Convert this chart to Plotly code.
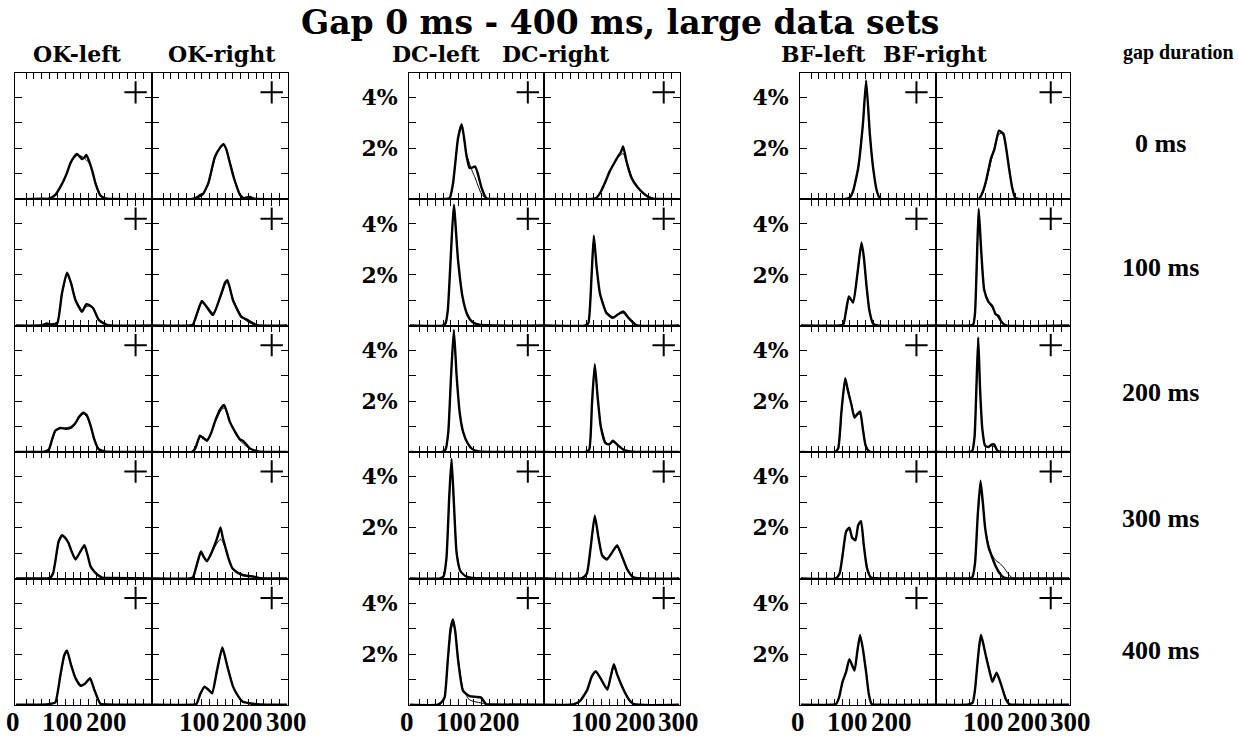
import plotly.graph_objects as go

W, H = 1238, 739
FRAME_MS = 1000 / 60
X_RANGE = [-7, 285]
Y_RANGE = [0, 4.96]

TITLE = "Gap 0 ms - 400 ms, large data sets"
COLUMN_TITLES = ["OK-left", "OK-right", "DC-left", "DC-right", "BF-left", "BF-right"]
GAP_TITLE = "gap duration"
GAP_LABELS = ["0 ms", "100 ms", "200 ms", "300 ms", "400 ms"]
X_LABELS_LEFT = ["0", "100", "200"]
X_LABELS_RIGHT = ["100", "200", "300"]
Y_TICK_VALUES = [1, 2, 3, 4]
Y_TICK_TEXT = ["", "2%", "", "4%"]
PLUS_X = [250, 250, 250, 250, 243, 243]
PLUS_Y = 4.2

# ---------------- data (ms, % per bin) ----------------
OK_LEFT_X = [
    [-5, 50, 60, 68, 80, 90, 97, 104, 111, 118, 125, 130, 136, 141, 145, 150, 158, 165, 175, 185, 200, 283],
    [-5, 50, 61, 70, 83, 93, 104, 112, 122, 136, 145, 152, 160, 172, 190, 283],
    [-5, 55, 65, 72, 79, 90, 100, 111, 122, 130, 139, 146, 154, 162, 171, 185, 283],
    [-5, 60, 68, 74, 79, 86, 93, 100, 107, 114, 122, 132, 141, 148, 154, 161, 168, 179, 195, 283],
    [-5, 60, 70, 79, 90, 98, 104, 112, 122, 133, 143, 153, 162, 175, 190, 283],
]
OK_LEFT_DATA = [
    [0.01, 0.03, 0.02, 0.05, 0.2, 0.5, 0.75, 1.05, 1.42, 1.65, 1.78, 1.7, 1.58, 1.65, 1.74, 1.55, 1.1, 0.6, 0.15, 0.04, 0.02, 0.01],
    [0.01, 0.02, 0.09, 0.05, 0.1, 1.27, 2.08, 1.7, 1.0, 0.55, 0.85, 0.8, 0.68, 0.22, 0.03, 0.01],
    [0.01, 0.02, 0.1, 0.5, 0.85, 0.95, 0.92, 0.95, 1.15, 1.4, 1.55, 1.45, 1.05, 0.5, 0.12, 0.03, 0.01],
    [0.01, 0.01, 0.03, 0.2, 0.68, 1.46, 1.7, 1.6, 1.4, 1.05, 0.75, 1.05, 1.31, 0.9, 0.48, 0.3, 0.16, 0.04, 0.03, 0.01],
    [0.01, 0.02, 0.05, 0.1, 1.2, 1.95, 2.13, 1.6, 1.05, 0.75, 0.85, 1.05, 0.6, 0.05, 0.02, 0.01],
]
OK_LEFT_FIT = [
    [0.01, 0.01, 0.02, 0.05, 0.2, 0.5, 0.75, 1.05, 1.38, 1.6, 1.72, 1.72, 1.68, 1.62, 1.55, 1.45, 1.1, 0.65, 0.2, 0.05, 0.02, 0.01],
    [0.01, 0.01, 0.05, 0.06, 0.15, 1.2, 2.0, 1.75, 1.05, 0.62, 0.75, 0.78, 0.65, 0.25, 0.04, 0.01],
    [0.01, 0.02, 0.12, 0.45, 0.8, 0.95, 0.95, 1.0, 1.15, 1.35, 1.5, 1.4, 1.05, 0.55, 0.15, 0.03, 0.01],
    [0.01, 0.01, 0.03, 0.22, 0.7, 1.4, 1.65, 1.6, 1.4, 1.08, 0.8, 1.05, 1.25, 0.9, 0.5, 0.3, 0.16, 0.04, 0.03, 0.01],
    [0.01, 0.02, 0.04, 0.12, 1.15, 1.9, 2.08, 1.65, 1.1, 0.8, 0.85, 1.0, 0.62, 0.08, 0.02, 0.01],
]

OK_RIGHT_X = [
    [-5, 80, 90, 96, 102, 114, 128, 140, 146, 152, 160, 168, 175, 182, 190, 203, 212, 283],
    [-5, 75, 81, 90, 100, 112, 124, 142, 150, 155, 167, 185, 199, 210, 217, 283],
    [-5, 80, 87, 96, 103, 111, 120, 128, 140, 148, 155, 160, 173, 182, 188, 196, 203, 221, 283],
    [-5, 75, 81, 90, 98, 104, 111, 118, 125, 133, 140, 145, 151, 158, 165, 175, 186, 200, 212, 225, 283],
    [-5, 80, 88, 97, 106, 114, 122, 132, 144, 155, 167, 178, 188, 205, 225, 283],
]
OK_RIGHT_DATA = [
    [0.01, 0.02, 0.08, 0.17, 0.2, 0.64, 1.67, 2.05, 2.17, 2.0, 1.45, 0.89, 0.5, 0.17, 0.05, 0.1, 0.03, 0.01],
    [0.01, 0.01, 0.05, 0.5, 0.98, 0.7, 0.42, 1.27, 1.7, 1.79, 1.0, 0.35, 0.22, 0.1, 0.03, 0.01],
    [0.01, 0.02, 0.2, 0.65, 0.55, 0.45, 0.75, 1.2, 1.7, 1.85, 1.5, 1.2, 0.75, 0.5, 0.45, 0.3, 0.15, 0.03, 0.01],
    [0.01, 0.01, 0.05, 0.6, 1.07, 0.85, 0.68, 0.9, 1.2, 1.6, 2.01, 1.6, 1.2, 0.75, 0.42, 0.25, 0.15, 0.1, 0.08, 0.02, 0.01],
    [0.01, 0.01, 0.03, 0.45, 0.72, 0.6, 0.46, 1.3, 2.26, 1.5, 0.72, 0.35, 0.13, 0.06, 0.02, 0.01],
]
OK_RIGHT_FIT = [
    [0.01, 0.01, 0.04, 0.1, 0.18, 0.6, 1.6, 2.05, 2.12, 2.0, 1.5, 0.95, 0.5, 0.2, 0.06, 0.05, 0.02, 0.01],
    [0.01, 0.01, 0.04, 0.45, 0.9, 0.75, 0.5, 1.2, 1.6, 1.7, 1.05, 0.38, 0.15, 0.06, 0.02, 0.01],
    [0.01, 0.02, 0.15, 0.6, 0.6, 0.5, 0.75, 1.15, 1.6, 1.75, 1.5, 1.2, 0.7, 0.45, 0.35, 0.22, 0.12, 0.03, 0.01],
    [0.01, 0.01, 0.05, 0.55, 1.0, 0.85, 0.72, 0.9, 1.15, 1.4, 1.55, 1.45, 1.15, 0.75, 0.45, 0.28, 0.18, 0.1, 0.07, 0.02, 0.01],
    [0.01, 0.01, 0.03, 0.4, 0.7, 0.62, 0.5, 1.25, 2.2, 1.55, 0.75, 0.35, 0.15, 0.06, 0.02, 0.01],
]

DC_LEFT_X = [
    [-5, 70, 81, 88, 92, 99, 107, 113, 117, 124, 130, 136, 142, 150, 160, 175, 283],
    [-5, 65, 72, 77, 83, 90, 99, 110, 120, 130, 145, 283],
    [-5, 65, 72, 78, 84, 90, 96, 103, 110, 120, 130, 145, 283],
    [-5, 60, 68, 74, 80, 85, 90, 96, 104, 115, 130, 283],
    [-5, 55, 63, 70, 77, 83, 88, 93, 99, 110, 124, 138, 149, 160, 175, 283],
]
DC_LEFT_DATA = [
    [0.01, 0.02, 0.05, 0.6, 1.23, 2.4, 2.95, 2.3, 1.75, 1.23, 1.25, 1.29, 1.0, 0.45, 0.05, 0.02, 0.01],
    [0.01, 0.01, 0.1, 0.63, 2.59, 4.75, 2.59, 1.02, 0.4, 0.15, 0.04, 0.01],
    [0.01, 0.01, 0.1, 0.8, 3.0, 4.8, 3.0, 1.5, 0.8, 0.35, 0.12, 0.03, 0.01],
    [0.01, 0.01, 0.1, 0.8, 3.2, 4.7, 3.0, 1.0, 0.3, 0.1, 0.03, 0.01],
    [0.01, 0.01, 0.1, 0.3, 1.79, 3.0, 3.36, 2.9, 1.79, 0.55, 0.35, 0.32, 0.29, 0.03, 0.02, 0.01],
]
DC_LEFT_FIT = [
    [0.01, 0.02, 0.05, 0.6, 1.2, 2.4, 2.9, 2.3, 1.8, 1.4, 1.1, 0.85, 0.55, 0.2, 0.04, 0.02, 0.01],
    [0.01, 0.01, 0.08, 0.6, 2.6, 4.7, 2.6, 1.0, 0.4, 0.15, 0.04, 0.01],
    [0.01, 0.01, 0.08, 0.75, 3.0, 4.7, 3.0, 1.5, 0.8, 0.35, 0.12, 0.03, 0.01],
    [0.01, 0.01, 0.1, 0.8, 3.1, 4.6, 3.0, 1.05, 0.3, 0.1, 0.03, 0.01],
    [0.01, 0.01, 0.06, 0.3, 1.7, 2.8, 3.2, 2.9, 1.9, 0.6, 0.2, 0.12, 0.08, 0.03, 0.02, 0.01],
]

DC_RIGHT_X = [
    [-5, 95, 105, 115, 125, 134, 143, 152, 158, 163, 170, 181, 193, 206, 217, 227, 240, 283],
    [-5, 80, 88, 95, 100, 106, 113, 127, 141, 152, 163, 175, 191, 283],
    [-5, 82, 90, 96, 102, 108, 115, 125, 133, 141, 150, 165, 183, 283],
    [-5, 75, 85, 93, 102, 110, 118, 128, 140, 150, 160, 172, 185, 283],
    [-5, 50, 57, 70, 86, 95, 104, 116, 129, 136, 143, 150, 165, 176, 186, 283],
]
DC_RIGHT_DATA = [
    [0.01, 0.02, 0.05, 0.3, 0.7, 1.1, 1.4, 1.69, 1.85, 2.08, 1.5, 0.84, 0.5, 0.25, 0.1, 0.03, 0.02, 0.01],
    [0.01, 0.01, 0.1, 1.93, 3.54, 2.3, 1.28, 0.5, 0.31, 0.45, 0.56, 0.3, 0.03, 0.01],
    [0.01, 0.01, 0.1, 1.9, 3.45, 2.2, 1.0, 0.35, 0.3, 0.45, 0.3, 0.08, 0.02, 0.01],
    [0.01, 0.02, 0.2, 1.2, 2.47, 1.6, 0.9, 0.75, 1.05, 1.3, 0.9, 0.35, 0.05, 0.01],
    [0.01, 0.01, 0.03, 0.15, 0.6, 1.1, 1.33, 1.0, 0.6, 1.1, 1.6, 1.2, 0.55, 0.2, 0.03, 0.01],
]
DC_RIGHT_FIT = [
    [0.01, 0.02, 0.05, 0.3, 0.7, 1.1, 1.4, 1.65, 1.75, 1.8, 1.5, 0.9, 0.5, 0.25, 0.1, 0.03, 0.02, 0.01],
    [0.01, 0.01, 0.08, 1.9, 3.45, 2.3, 1.3, 0.55, 0.35, 0.45, 0.5, 0.3, 0.04, 0.01],
    [0.01, 0.01, 0.08, 1.85, 3.35, 2.2, 1.05, 0.4, 0.32, 0.4, 0.3, 0.1, 0.02, 0.01],
    [0.01, 0.02, 0.2, 1.15, 2.4, 1.65, 0.95, 0.8, 1.05, 1.25, 0.9, 0.38, 0.06, 0.01],
    [0.01, 0.01, 0.03, 0.15, 0.6, 1.05, 1.3, 1.0, 0.65, 1.05, 1.5, 1.2, 0.6, 0.22, 0.04, 0.01],
]

BF_LEFT_X = [
    [-5, 90, 100, 107, 118, 128, 135, 143, 150, 158, 165, 180, 283],
    [-5, 78, 86, 92, 98, 107, 116, 125, 130, 136, 142, 150, 160, 283],
    [-5, 68, 75, 82, 90, 96, 103, 110, 116, 122, 128, 134, 142, 283],
    [-5, 70, 78, 85, 92, 99, 105, 112, 118, 124, 130, 137, 145, 160, 283],
    [-5, 62, 70, 77, 84, 92, 99, 110, 116, 122, 128, 135, 141, 147, 160, 283],
]
BF_LEFT_DATA = [
    [0.01, 0.02, 0.08, 0.33, 1.24, 2.94, 4.67, 2.55, 1.24, 0.33, 0.03, 0.01, 0.01],
    [0.01, 0.01, 0.05, 0.6, 1.15, 0.91, 2.0, 3.27, 2.7, 1.54, 0.6, 0.08, 0.01, 0.01],
    [0.01, 0.01, 0.15, 1.6, 2.9, 2.4, 1.9, 1.35, 1.5, 1.6, 0.9, 0.25, 0.03, 0.01],
    [0.01, 0.01, 0.2, 1.0, 1.85, 2.0, 1.6, 1.5, 2.1, 2.25, 1.3, 0.4, 0.05, 0.01, 0.01],
    [0.01, 0.01, 0.03, 0.3, 0.89, 1.3, 1.8, 1.35, 2.1, 2.75, 2.2, 1.28, 0.4, 0.03, 0.01, 0.01],
]
BF_LEFT_FIT = [
    [0.01, 0.01, 0.06, 0.3, 1.2, 2.9, 4.5, 2.6, 1.2, 0.35, 0.05, 0.01, 0.01],
    [0.01, 0.01, 0.04, 0.55, 1.05, 1.0, 2.0, 3.2, 2.7, 1.5, 0.6, 0.1, 0.01, 0.01],
    [0.01, 0.01, 0.12, 1.5, 2.7, 2.5, 1.9, 1.45, 1.45, 1.5, 0.95, 0.3, 0.04, 0.01],
    [0.01, 0.01, 0.2, 0.95, 1.8, 1.95, 1.65, 1.55, 2.05, 2.2, 1.35, 0.45, 0.06, 0.01, 0.01],
    [0.01, 0.01, 0.03, 0.3, 0.85, 1.3, 1.75, 1.4, 2.05, 2.7, 2.2, 1.3, 0.42, 0.04, 0.01, 0.01],
]

BF_RIGHT_X = [
    [-5, 80, 87, 95, 102, 113, 120, 130, 135, 140, 146, 152, 159, 166, 180, 283],
    [-5, 68, 74, 78, 82, 86, 91, 98, 107, 116, 123, 129, 136, 145, 283],
    [-5, 65, 72, 77, 81, 85, 89, 94, 100, 107, 114, 120, 127, 140, 283],
    [-5, 65, 72, 78, 84, 90, 95, 100, 108, 116, 124, 132, 140, 150, 160, 283],
    [-5, 60, 66, 73, 78, 82, 87, 91, 96, 102, 110, 116, 125, 135, 145, 153, 165, 283],
]
BF_RIGHT_DATA = [
    [0.01, 0.01, 0.03, 0.3, 0.72, 1.62, 1.95, 2.7, 2.65, 2.57, 2.0, 1.24, 0.46, 0.05, 0.01, 0.01],
    [0.01, 0.01, 0.05, 0.5, 2.5, 4.6, 3.1, 1.41, 0.95, 0.76, 0.45, 0.39, 0.15, 0.02, 0.01],
    [0.01, 0.01, 0.05, 0.6, 2.5, 4.5, 2.5, 0.9, 0.25, 0.2, 0.3, 0.3, 0.05, 0.01, 0.01],
    [0.01, 0.01, 0.05, 0.6, 2.5, 3.84, 3.0, 2.0, 1.2, 0.8, 0.45, 0.2, 0.05, 0.01, 0.01, 0.01],
    [0.01, 0.01, 0.03, 0.1, 0.6, 1.37, 2.3, 2.75, 2.4, 1.9, 1.3, 0.91, 1.27, 0.8, 0.24, 0.03, 0.01, 0.01],
]
BF_RIGHT_FIT = [
    [0.01, 0.01, 0.02, 0.25, 0.65, 1.5, 2.0, 2.55, 2.6, 2.5, 2.0, 1.3, 0.5, 0.08, 0.01, 0.01],
    [0.01, 0.01, 0.05, 0.5, 2.5, 4.5, 3.1, 1.45, 0.95, 0.7, 0.5, 0.3, 0.12, 0.02, 0.01],
    [0.01, 0.01, 0.05, 0.6, 2.5, 4.4, 2.5, 0.9, 0.28, 0.2, 0.25, 0.22, 0.05, 0.01, 0.01],
    [0.01, 0.01, 0.05, 0.6, 2.4, 3.5, 2.9, 2.0, 1.3, 0.9, 0.7, 0.6, 0.45, 0.2, 0.02, 0.01],
    [0.01, 0.01, 0.03, 0.1, 0.55, 1.3, 2.2, 2.65, 2.4, 1.95, 1.35, 1.0, 1.2, 0.8, 0.28, 0.04, 0.01, 0.01],
]

COLUMNS_X = [OK_LEFT_X, OK_RIGHT_X, DC_LEFT_X, DC_RIGHT_X, BF_LEFT_X, BF_RIGHT_X]
COLUMNS_DATA = [OK_LEFT_DATA, OK_RIGHT_DATA, DC_LEFT_DATA, DC_RIGHT_DATA, BF_LEFT_DATA, BF_RIGHT_DATA]
COLUMNS_FIT = [OK_LEFT_FIT, OK_RIGHT_FIT, DC_LEFT_FIT, DC_RIGHT_FIT, BF_LEFT_FIT, BF_RIGHT_FIT]

# ---------------- layout geometry (pixels) ----------------
COL_EDGES = [(15, 152), (152, 288), (409, 544), (544, 680), (800, 936), (936, 1070)]
ROW_TOP, ROW_BOTTOM = 73, 705
N_ROWS = 5
COLUMN_TITLE_X = [77, 222, 436, 556, 823, 935]
COLUMN_TITLE_Y = 54
GAP_TITLE_X = 1178
GAP_LABEL_X = 1160
GAP_LABEL_Y = [143, 267, 392, 518, 650]
X_LABEL_OFFS_LEFT = [-2, 47.5, 91]
X_LABEL_OFFS_RIGHT = [47.5, 91, 134]
X_LABEL_Y = 722

SERIF = "DejaVu Serif"
TIMES = "Liberation Serif"


def px(x):
    return x / W


def py(y):
    return 1 - y / H


fig = go.Figure()
layout = dict(
    width=W, height=H, autosize=False,
    margin=dict(l=0, r=0, t=0, b=0),
    paper_bgcolor="white", plot_bgcolor="white",
    showlegend=False,
)
annotations = []

row_h = (ROW_BOTTOM - ROW_TOP) / N_ROWS
x_ticks = [FRAME_MS * k for k in range(1, 17)]

for r in range(N_ROWS):
    top = ROW_TOP + r * row_h
    bot = top + row_h
    for c in range(6):
        idx = r * 6 + c + 1
        xname = "x" if idx == 1 else f"x{idx}"
        yname = "y" if idx == 1 else f"y{idx}"
        xkey = "xaxis" if idx == 1 else f"xaxis{idx}"
        ykey = "yaxis" if idx == 1 else f"yaxis{idx}"
        x0, x1 = COL_EDGES[c]
        layout[xkey] = dict(
            domain=[px(x0), px(x1)], anchor=yname, range=X_RANGE,
            tickmode="array", tickvals=x_ticks, ticks="inside", ticklen=6,
            tickwidth=1, tickcolor="black", showticklabels=False,
            showline=True, linecolor="black", linewidth=1.3, mirror="ticks",
            showgrid=False, zeroline=False, fixedrange=True,
        )
        show_y = c in (2, 4)
        layout[ykey] = dict(
            domain=[py(bot), py(top)], anchor=xname, range=Y_RANGE,
            tickmode="array", tickvals=Y_TICK_VALUES, ticktext=Y_TICK_TEXT,
            ticks="inside", ticklen=7, tickwidth=1, tickcolor="black",
            showticklabels=show_y, ticklabelstandoff=6,
            tickfont=dict(family=SERIF, size=22, color="black", weight="bold"),
            showline=True, linecolor="black", linewidth=1, mirror="ticks",
            showgrid=False, zeroline=False, fixedrange=True,
        )
        fig.add_trace(go.Scatter(
            x=COLUMNS_X[c][r], y=COLUMNS_FIT[c][r], mode="lines",
            line=dict(color="black", width=1, shape="spline", smoothing=0.5),
            xaxis=xname, yaxis=yname, cliponaxis=False, hoverinfo="skip",
        ))
        fig.add_trace(go.Scatter(
            x=COLUMNS_X[c][r], y=COLUMNS_DATA[c][r], mode="lines",
            line=dict(color="black", width=2.4, shape="spline", smoothing=0.5),
            xaxis=xname, yaxis=yname, cliponaxis=False, hoverinfo="skip",
        ))
        fig.add_trace(go.Scatter(
            x=[PLUS_X[c]], y=[PLUS_Y], mode="markers",
            marker=dict(symbol="cross-thin", size=16, color="black",
                        line=dict(color="black", width=2)),
            xaxis=xname, yaxis=yname, cliponaxis=False, hoverinfo="skip",
        ))

# title
annotations.append(dict(
    text=TITLE, x=px(620), y=py(22), xref="paper", yref="paper",
    xanchor="center", yanchor="middle", showarrow=False,
    font=dict(family=SERIF, size=33, color="black", weight="bold"),
))
# column titles
for t, cx in zip(COLUMN_TITLES, COLUMN_TITLE_X):
    annotations.append(dict(
        text=t, x=px(cx), y=py(COLUMN_TITLE_Y), xref="paper", yref="paper",
        xanchor="center", yanchor="middle", showarrow=False,
        font=dict(family=SERIF, size=22, color="black", weight="bold"),
    ))
# gap duration labels
annotations.append(dict(
    text=GAP_TITLE, x=px(GAP_TITLE_X), y=py(COLUMN_TITLE_Y - 2), xref="paper", yref="paper",
    xanchor="center", yanchor="middle", showarrow=False,
    font=dict(family=TIMES, size=20, color="black", weight="bold"),
))
for t, gy in zip(GAP_LABELS, GAP_LABEL_Y):
    annotations.append(dict(
        text=t, x=px(GAP_LABEL_X), y=py(gy), xref="paper", yref="paper",
        xanchor="center", yanchor="middle", showarrow=False,
        font=dict(family=TIMES, size=26, color="black", weight="bold"),
    ))
# x tick labels under the bottom row
for c in range(6):
    x0 = COL_EDGES[c][0]
    labels = X_LABELS_LEFT if c % 2 == 0 else X_LABELS_RIGHT
    offs = X_LABEL_OFFS_LEFT if c % 2 == 0 else X_LABEL_OFFS_RIGHT
    for t, o in zip(labels, offs):
        annotations.append(dict(
            text=t, x=px(x0 + o), y=py(X_LABEL_Y), xref="paper", yref="paper",
            xanchor="center", yanchor="middle", showarrow=False,
            font=dict(family=TIMES, size=27, color="black", weight="bold"),
        ))

layout["annotations"] = annotations
fig.update_layout(**layout)
fig.write_html("out.html")
